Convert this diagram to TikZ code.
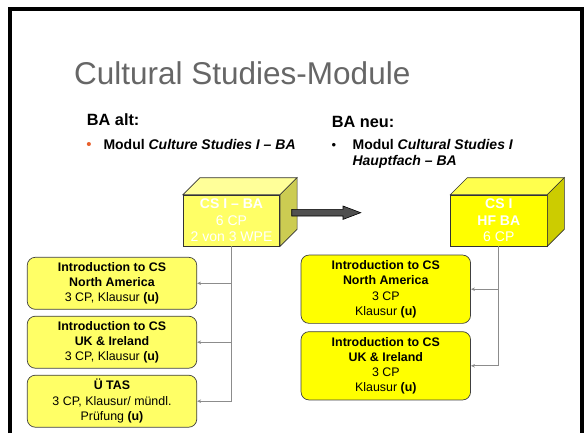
\documentclass[tikz,border=0pt]{standalone}
\usepackage{fontspec}
\setmainfont{Liberation Sans}
\usetikzlibrary{arrows.meta}
\definecolor{ltyel}{HTML}{FFFF66}
\definecolor{ltyeltop}{HTML}{FFFF99}
\definecolor{ltyelside}{HTML}{CCCC52}
\definecolor{yel}{HTML}{FFFF00}
\definecolor{yeltop}{HTML}{FFFF4D}
\definecolor{yelside}{HTML}{CCCC00}
\definecolor{titlegray}{HTML}{666666}
\definecolor{bulletorange}{HTML}{E8602C}
\definecolor{conngray}{HTML}{8C8C8C}
\definecolor{arrowgray}{HTML}{505050}
\begin{document}
\begin{tikzpicture}[x=1pt,y=-1pt,
  cubeface/.style={draw=black!80, line width=0.6pt, minimum width=96.5pt, minimum height=51pt,
    inner sep=0pt, align=center, text=white, font=\fontsize{14}{16.4}\selectfont},
  cubeedge/.style={draw=black!80, line width=0.6pt},
  modbox/.style={draw=black!75, line width=0.7pt, rounded corners=8pt, minimum width=169.5pt,
    inner sep=0pt, align=center, font=\fontsize{12.4}{15.3}\selectfont},
  conn/.style={draw=conngray, line width=0.9pt, -{Stealth[length=4pt,width=3.5pt]}},
  plain/.style={anchor=base west, inner sep=0pt},
]
\useasboundingbox (0,0) rectangle (588,433);
\fill[white] (0,0) rectangle (588,433);
\draw[line width=4pt] (10.3,433) -- (10.3,9.3) -- (581.8,9.3) -- (581.8,433);

% title and headings
\node[plain, text=titlegray, font=\fontsize{31.5}{36}\selectfont] (title) at (74,84.3) {Cultural Studies-Module};
\node[plain, font=\fontsize{16.3}{19}\selectfont\bfseries] (altH) at (86.7,125.7) {BA alt:};
\node[plain, font=\fontsize{16.3}{19}\selectfont\bfseries] (neuH) at (331.7,127.3) {BA neu:};

\node[anchor=base, inner sep=0pt, text=bulletorange, font=\fontsize{15}{16}\selectfont] (bulL) at (89,149) {•};
\node[plain, font=\fontsize{14}{16.5}\selectfont\bfseries] (bulLtxt) at (103.3,149) {Modul \textit{Culture Studies I -- BA}};
\node[anchor=base, inner sep=0pt, font=\fontsize{13}{16}\selectfont] (bulR) at (334,149) {•};
\node[plain, font=\fontsize{14}{16.5}\selectfont\bfseries] (bulRtxt) at (352.4,149) {Modul \textit{Cultural Studies I}};
\node[plain, font=\fontsize{14}{16.5}\selectfont\bfseries\itshape] (bulRtxtb) at (352.4,165.5) {Hauptfach -- BA};

% left cube
\node[cubeface, fill=ltyel] (cubeL) at (231.5,220.5) {\textbf{CS I -- BA}\\6 CP\\2 von 3 WPE};
\filldraw[cubeedge, fill=ltyeltop] (cubeL.north west) -- ++(17,-17) -- ([shift={(17,-17)}]cubeL.north east) -- (cubeL.north east) -- cycle;
\filldraw[cubeedge, fill=ltyelside] (cubeL.north east) -- ++(17,-17) -- ([shift={(17,-17)}]cubeL.south east) -- (cubeL.south east) -- cycle;

% right cube
\node[cubeface, fill=yel] (cubeR) at (498.8,220.5) {\textbf{CS I}\\\textbf{HF BA}\\6 CP};
\filldraw[cubeedge, fill=yeltop] (cubeR.north west) -- ++(17,-17) -- ([shift={(17,-17)}]cubeR.north east) -- (cubeR.north east) -- cycle;
\filldraw[cubeedge, fill=yelside] (cubeR.north east) -- ++(17,-17) -- ([shift={(17,-17)}]cubeR.south east) -- (cubeR.south east) -- cycle;

% block arrow
\filldraw[fill=arrowgray, draw=black, line width=0.6pt]
  (291.7,209.3) -- (343,209.3) -- (343,206) -- (360.7,212.7) -- (343,219.4) -- (343,216) -- (291.7,216) -- cycle;

% module boxes left
\node[modbox, fill=ltyel, minimum height=52pt] (l1) at (112,283.3)
  {\textbf{Introduction to CS}\\\textbf{North America}\\3 CP, Klausur \textbf{(u)}};
\node[modbox, fill=ltyel, minimum height=52pt] (l2) at (112,342.2)
  {\textbf{Introduction to CS}\\\textbf{UK \& Ireland}\\3 CP, Klausur \textbf{(u)}};
\node[modbox, fill=ltyel, minimum height=52pt] (l3) at (112,401.2)
  {\textbf{Ü TAS}\\3 CP, Klausur/ mündl.\\Prüfung \textbf{(u)}};

% module boxes right
\node[modbox, fill=yel, minimum height=68.3pt] (r1) at (385.8,289.2)
  {\textbf{Introduction to CS}\\\textbf{North America}\\3 CP\\Klausur \textbf{(u)}};
\node[modbox, fill=yel, minimum height=68.3pt] (r2) at (385.8,365.8)
  {\textbf{Introduction to CS}\\\textbf{UK \& Ireland}\\3 CP\\Klausur \textbf{(u)}};

% connectors
\draw[conn] (cubeL.south) |- (l1.east);
\draw[conn] (cubeL.south) |- (l2.east);
\draw[conn] (cubeL.south) |- (l3.east);
\draw[conn] (cubeR.south) |- (r1.east);
\draw[conn] (cubeR.south) |- (r2.east);
\end{tikzpicture}
\end{document}
